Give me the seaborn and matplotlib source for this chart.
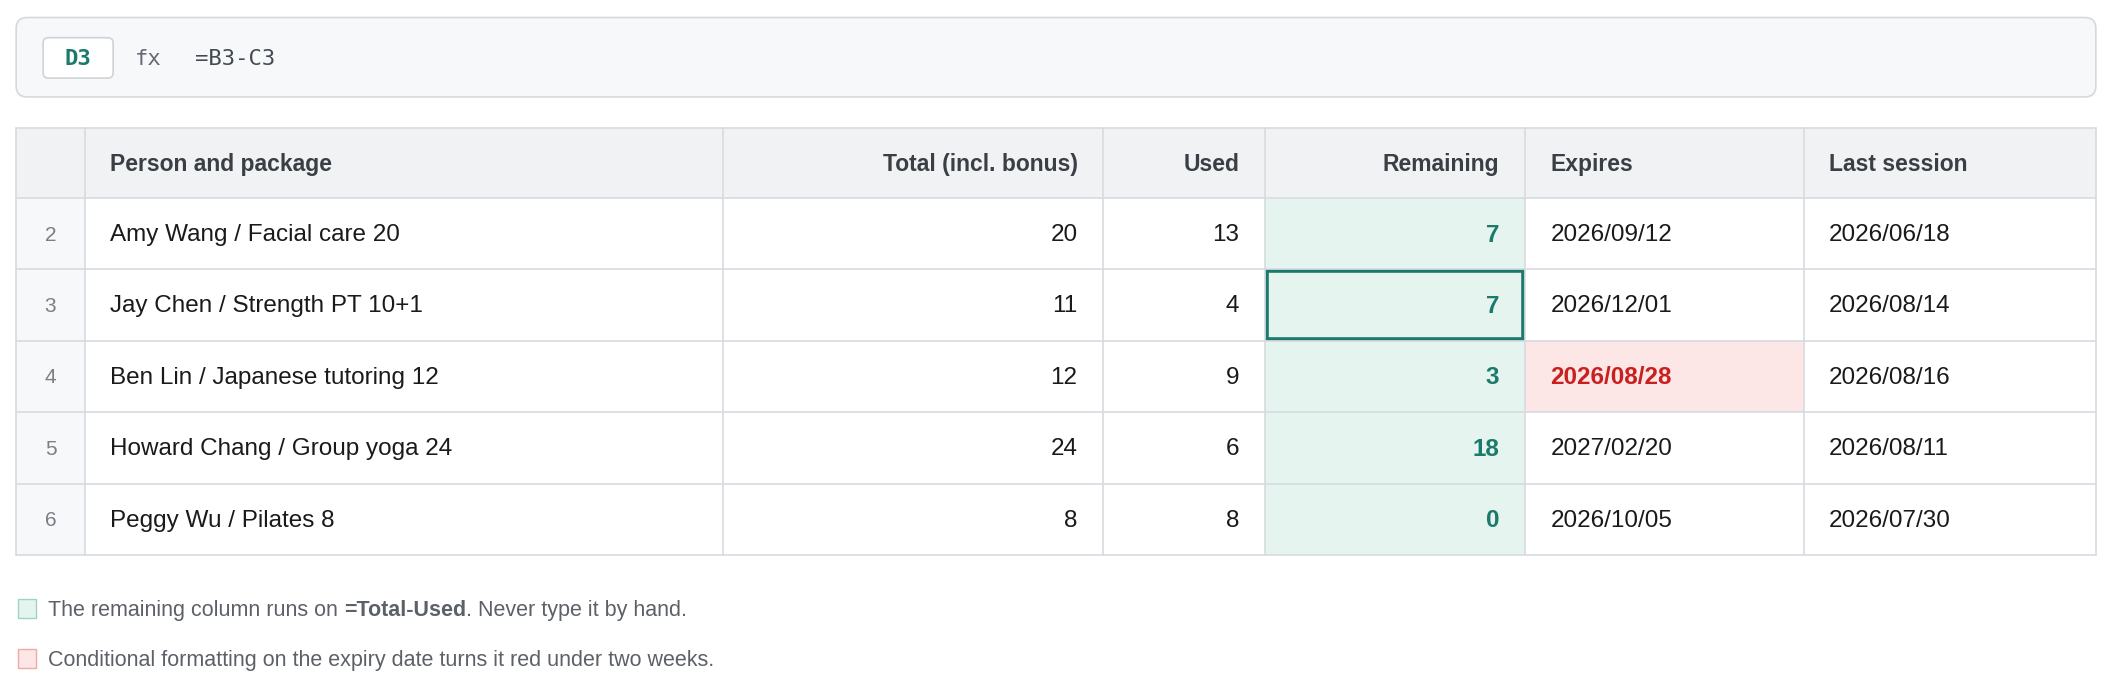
import matplotlib
matplotlib.use("Agg")
import matplotlib.pyplot as plt
import seaborn as sns
from matplotlib.patches import Rectangle, FancyBboxPatch

# data
headers = ['Person and package', 'Total (incl. bonus)', 'Used', 'Remaining', 'Expires', 'Last session']
row_nums = [2, 3, 4, 5, 6]
people = ['Amy Wang / Facial care 20', 'Jay Chen / Strength PT 10+1', 'Ben Lin / Japanese tutoring 12',
          'Howard Chang / Group yoga 24', 'Peggy Wu / Pilates 8']
totals = [20, 11, 12, 24, 8]
used = [13, 4, 9, 6, 8]
expires = ['2026/09/12', '2026/12/01', '2026/08/28', '2027/02/20', '2026/10/05']
last_session = ['2026/06/18', '2026/08/14', '2026/08/16', '2026/08/11', '2026/07/30']
expiring_soon = [False, False, True, False, False]
selected_row = 1

sns.set_theme(style='white')
plt.rcParams['font.family'] = ['Liberation Sans', 'DejaVu Sans']

W, H = 1568, 516.7
fig = plt.figure(figsize=(21.12, 6.96), dpi=100)
ax = fig.add_axes([0, 0, 1, 1])
ax.set_xlim(0, W)
ax.set_ylim(H, 0)
ax.axis('off')

teal = '#1b7a6c'
grid = '#d7dadf'
txt = '#1a1a1a'
note_c = '#5c6168'

# formula bar
ax.add_patch(FancyBboxPatch((12, 13), 1544, 59, boxstyle='round,pad=0,rounding_size=8',
                            fc='#f7f8fa', ec='#d5d8dd', lw=1.2))
ax.add_patch(FancyBboxPatch((32, 28), 52, 30, boxstyle='round,pad=0,rounding_size=4',
                            fc='white', ec='#cfd3d8', lw=1.2))
ax.text(58, 43.5, 'D3', ha='center', va='center', fontsize=16, fontweight='bold',
        color=teal, family='DejaVu Sans Mono')
ax.text(100, 43.5, 'fx', ha='left', va='center', fontsize=16, color='#666b72', family='DejaVu Sans Mono')
ax.text(145, 43.5, '=B3-C3', ha='left', va='center', fontsize=16, color='#444a52', family='DejaVu Sans Mono')

# table
cols = [12, 63, 537, 819, 939, 1132, 1339, 1556]
top, head_h, row_h = 95, 52, 53
ys = [top + head_h + i * row_h for i in range(len(people) + 1)]

ax.add_patch(Rectangle((cols[0], top), cols[-1] - cols[0], head_h, fc='#f1f2f4', ec='none'))
ax.add_patch(Rectangle((cols[0], ys[0]), cols[1] - cols[0], ys[-1] - ys[0], fc='#f7f8f9', ec='none'))
ax.add_patch(Rectangle((cols[4], ys[0]), cols[5] - cols[4], ys[-1] - ys[0], fc='#e5f4ef', ec='none'))
for i, soon in enumerate(expiring_soon):
    if soon:
        ax.add_patch(Rectangle((cols[5], ys[i]), cols[6] - cols[5], row_h, fc='#fde6e6', ec='none'))

for x in cols:
    ax.plot([x, x], [top, ys[-1]], color=grid, lw=1.2)
for y in [top] + ys:
    ax.plot([cols[0], cols[-1]], [y, y], color=grid, lw=1.2)

aligns = ['left', 'right', 'right', 'right', 'left', 'left']
pad = 19
def xpos(c, al):
    return cols[c + 1] + pad if al == 'left' else cols[c + 2] - pad

hy = top + head_h / 2 + 1
for c, (h, al) in enumerate(zip(headers, aligns)):
    ax.text(xpos(c, al), hy, h, ha=al, va='center', fontsize=16.5, fontweight='bold', color='#3a3f45')

for i in range(len(people)):
    cy = ys[i] + row_h / 2 + 1
    remaining = totals[i] - used[i]
    ax.text((cols[0] + cols[1]) / 2, cy, str(row_nums[i]), ha='center', va='center', fontsize=15, color='#7a7f86')
    vals = [people[i], str(totals[i]), str(used[i]), str(remaining), expires[i], last_session[i]]
    for c, (v, al) in enumerate(zip(vals, aligns)):
        kw = dict(color=txt, fontweight='normal')
        if c == 3:
            kw = dict(color=teal, fontweight='bold')
        if c == 4 and expiring_soon[i]:
            kw = dict(color='#c8201f', fontweight='bold')
        ax.text(xpos(c, al), cy, v, ha=al, va='center', fontsize=17.5, **kw)

ax.add_patch(Rectangle((cols[4] + 1.5, ys[selected_row] + 1.5), cols[5] - cols[4] - 3, row_h - 3,
                       fc='none', ec=teal, lw=2.6))

# notes
def text_run(x, y, parts):
    r = fig.canvas.get_renderer()
    for s, bold in parts:
        t = ax.text(x, y, s, ha='left', va='center', fontsize=15.5, color=note_c,
                    fontweight='bold' if bold else 'normal')
        bb = t.get_window_extent(r)
        x += bb.width * W / fig.bbox.width

ax.add_patch(Rectangle((13, 445), 14, 14, fc='#e5f4ef', ec='#9fd3c2', lw=1))
text_run(36, 453, [('The remaining column runs on ', False), ('=Total-Used', True),
                   ('. Never type it by hand.', False)])
ax.add_patch(Rectangle((13, 482), 14, 14, fc='#fde6e6', ec='#f0a8a8', lw=1))
text_run(36, 490, [('Conditional formatting on the expiry date turns it red under two weeks.', False)])

fig.savefig('out.png', dpi=100)
